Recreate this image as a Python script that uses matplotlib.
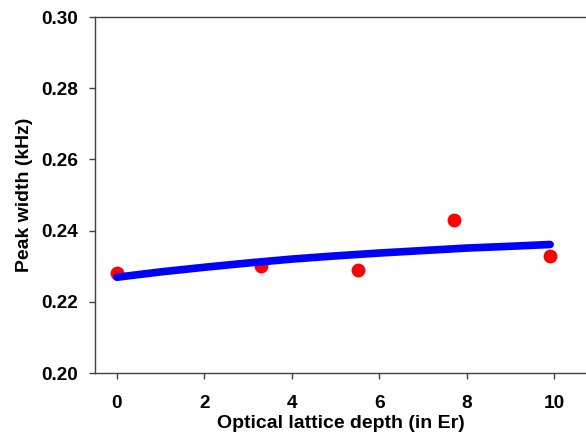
import matplotlib
matplotlib.use("Agg")
import matplotlib.pyplot as plt

# Data
depth = [0.0, 3.3, 5.5, 7.7, 9.9]
width = [0.228, 0.230, 0.229, 0.243, 0.233]

fit_x = [0.0, 1.0, 2.0, 3.0, 4.0, 5.0, 6.0, 7.0, 8.0, 9.0, 9.9]
fit_y = [0.2269, 0.2284, 0.2297, 0.2309, 0.2320, 0.2329, 0.2337, 0.2344, 0.2351, 0.2356, 0.2361]

xticks = [0, 2, 4, 6, 8, 10]
yticks = [0.20, 0.22, 0.24, 0.26, 0.28, 0.30]

plt.rcParams['font.family'] = ['Liberation Sans', 'DejaVu Sans']
plt.rcParams['font.weight'] = 'bold'

fig = plt.figure(figsize=(5.86, 4.34), dpi=100)
ax = fig.add_axes([95/586, 1 - 373/434, 1 - 95/586 + 0.0, (373 - 17)/434])

ax.plot(depth, width, 'o', color='#ff0000', markersize=10, markeredgewidth=0, zorder=2)
ax.plot(fit_x, fit_y, '-', color='#0000ff', linewidth=5.5, solid_capstyle='round', zorder=3)

ax.set_xlim(-0.5, 10.72)
ax.set_ylim(0.20, 0.30)
ax.set_xticks(xticks)
ax.set_yticks(yticks)
ax.set_xticklabels([str(t) for t in xticks])
ax.set_yticklabels([f"{t:.2f}" for t in yticks])

for s in ['left', 'bottom', 'top']:
    ax.spines[s].set_color('#404040')
    ax.spines[s].set_linewidth(1.0)
ax.spines['right'].set_visible(False)

ax.tick_params(axis='both', direction='out', length=4, width=1, color='#404040',
               labelsize=13.7)
ax.tick_params(axis='x', pad=12)
ax.tick_params(axis='y', pad=8)
for lab in ax.get_xticklabels() + ax.get_yticklabels():
    lab.set_fontweight('bold')

ax.set_xlabel('Optical lattice depth (in Er)', fontsize=14, fontweight='bold', labelpad=2)
ax.set_ylabel('Peak width (kHz)', fontsize=14, fontweight='bold', labelpad=6)

fig.savefig('out.png', dpi=100)
